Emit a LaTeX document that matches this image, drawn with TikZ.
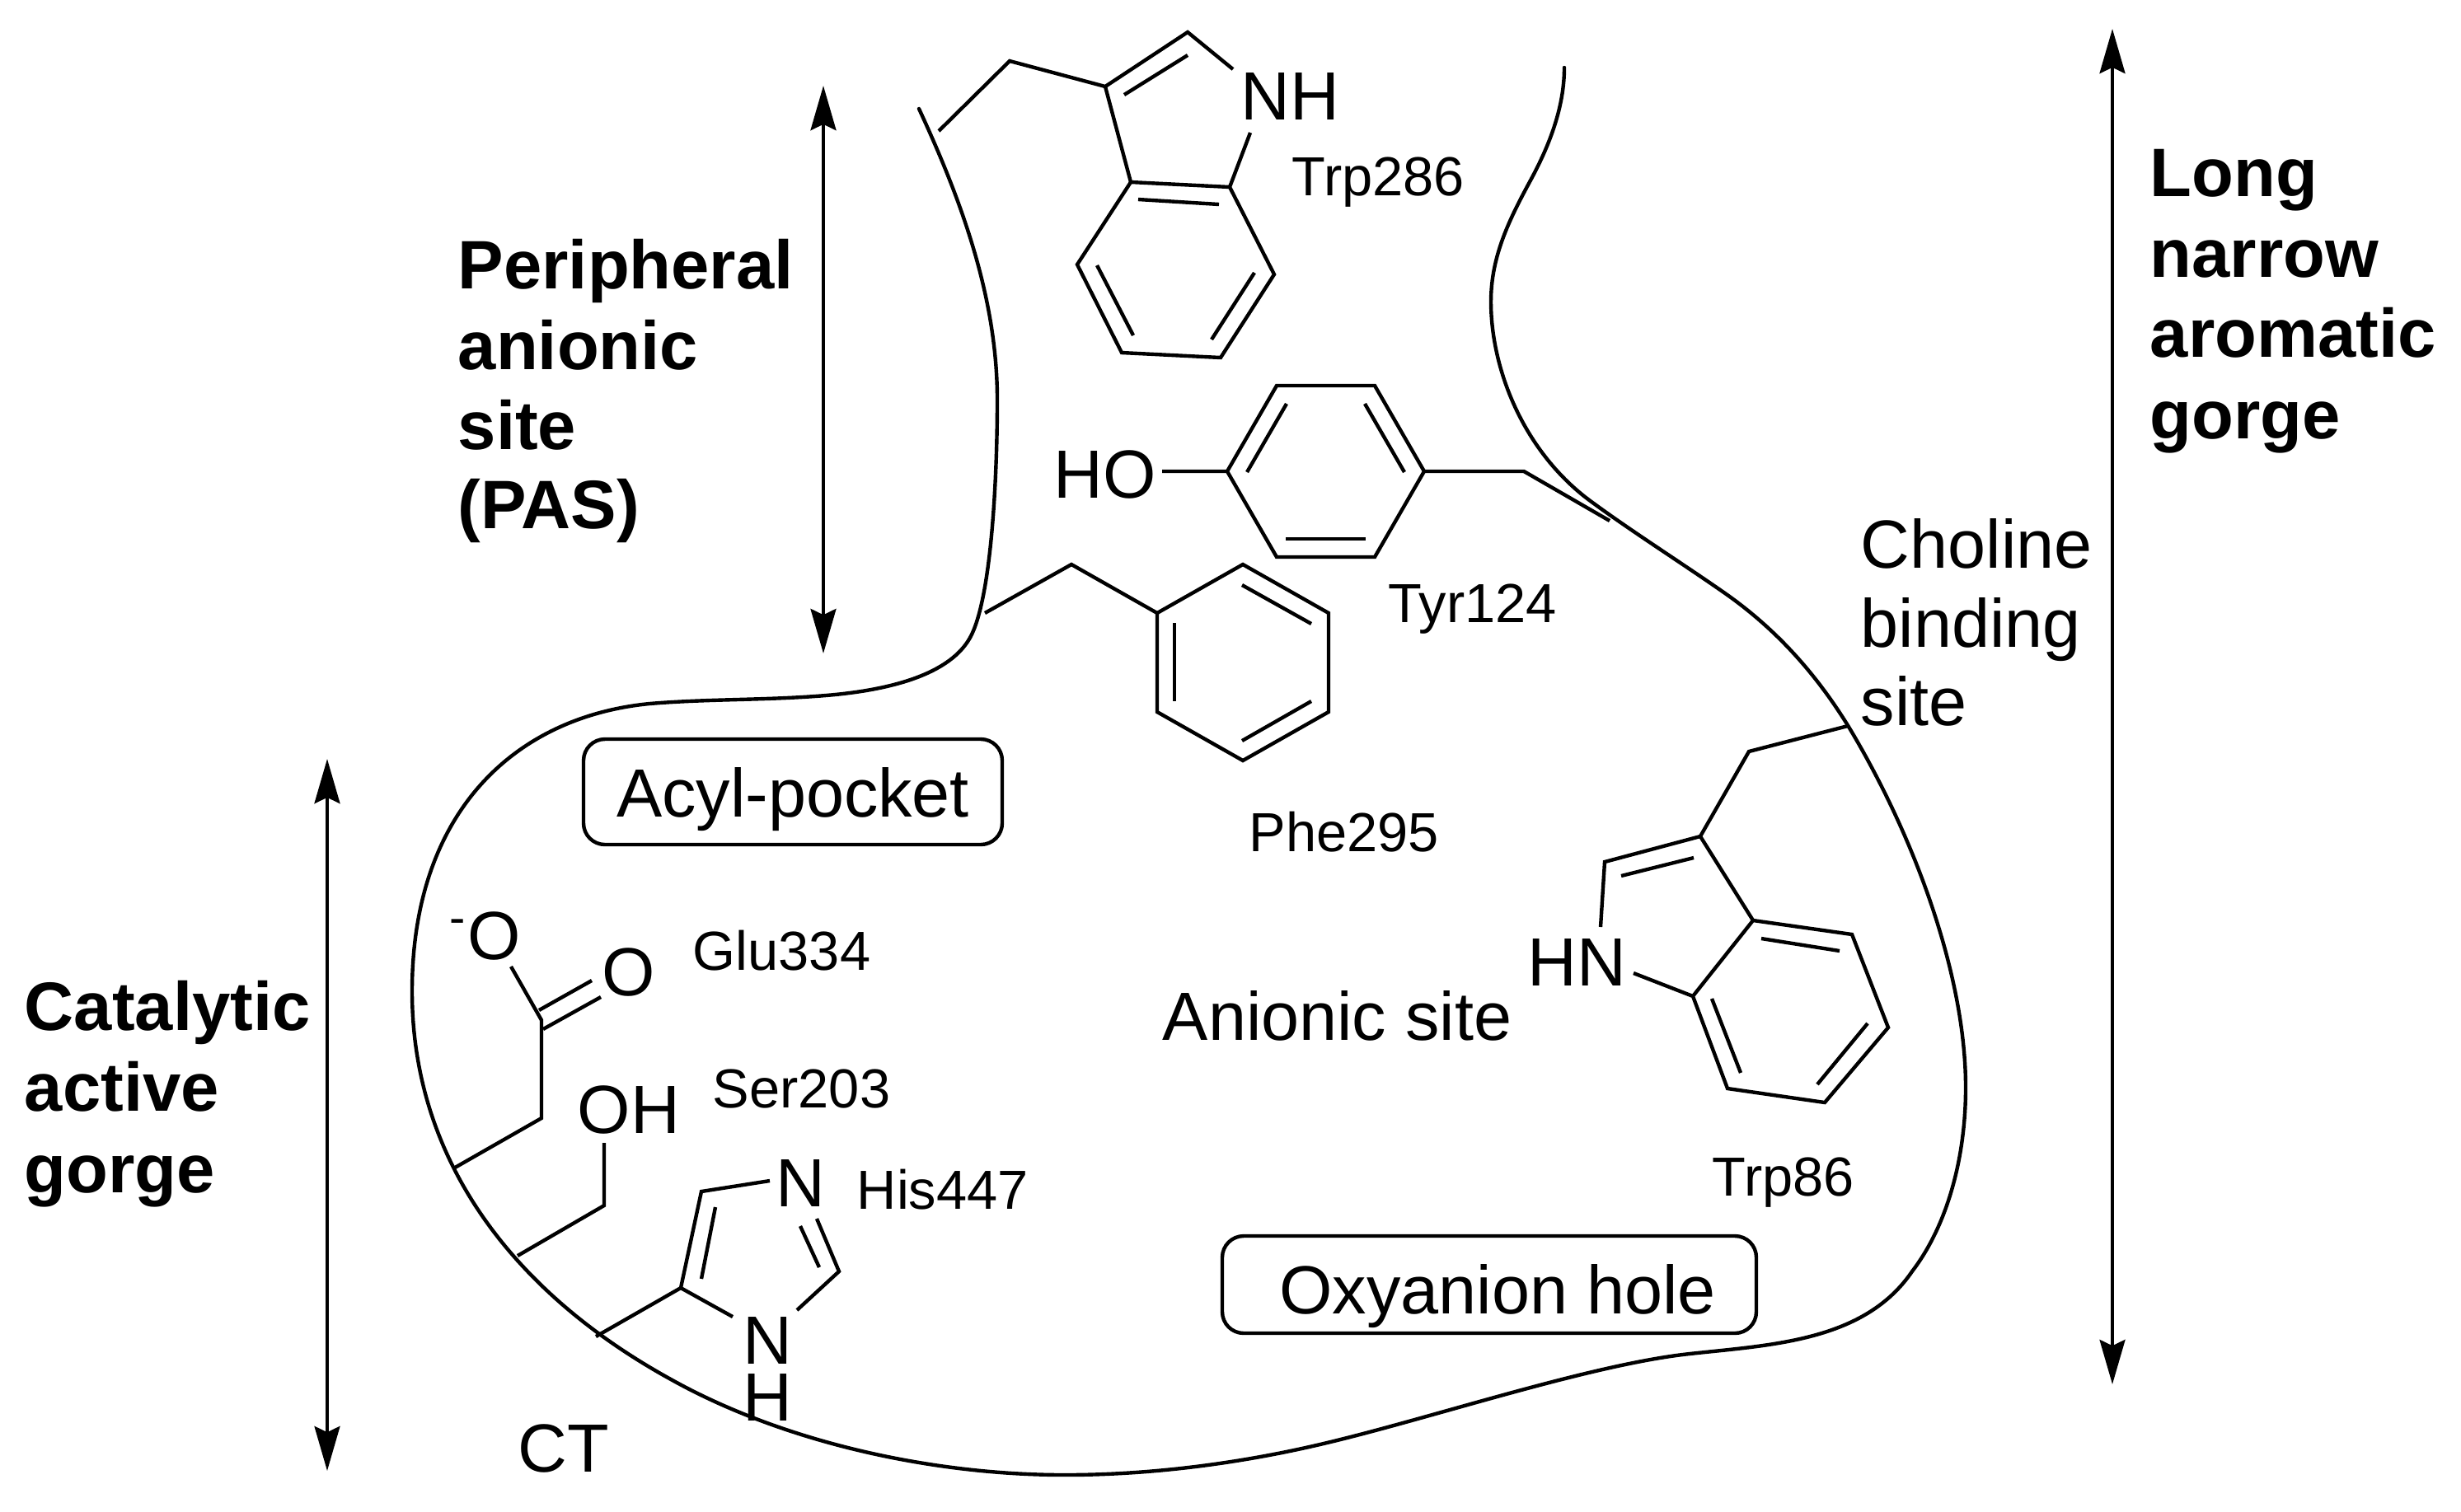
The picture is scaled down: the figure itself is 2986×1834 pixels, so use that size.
\documentclass[tikz,border=0pt]{standalone}
\usepackage{fontspec}
\setmainfont{Liberation Sans}
\usetikzlibrary{arrows.meta}
\tikzset{
  bond/.style={line width=1.1pt, line join=miter},
  wall/.style={line width=1.1pt, line cap=round},
  span/.style={line width=1.15pt, {Stealth[length=13.5pt,width=7.7pt,inset=1.8pt]}-{Stealth[length=13.5pt,width=7.7pt,inset=1.8pt]}},
  atom/.style={anchor=base west, inner sep=0pt, font=\fontsize{20.7}{20.7}\selectfont},
  res/.style={anchor=base west, inner sep=0pt, font=\fontsize{16.7}{16.7}\selectfont},
  site/.style={anchor=base west, inner sep=0pt, font=\fontsize{20.7}{20.7}\selectfont},
  head/.style={anchor=base west, inner sep=0pt, font=\fontsize{20.8}{20.8}\bfseries\selectfont},
  pocket/.style={draw, line width=1.1pt, rounded corners=6.5pt, anchor=center, inner sep=0pt, text depth=0pt, font=\fontsize{20.7}{20.7}\selectfont},
}
\begin{document}
\begin{tikzpicture}[x=0.25pt,y=-0.25pt]
\useasboundingbox (0,0) rectangle (2986,1834);

% gorge outline
\draw[wall] (1115,132)
  .. controls (1165,240) and (1210,360) .. (1210,485)
  .. controls (1210,580) and (1203,720) .. (1179,770)
  .. controls (1155,820) and (1075,838) .. (1002,844)
  .. controls (930,850) and (860,848) .. (788,854)
  .. controls (625,870) and (500,985) .. (500,1203)
  .. controls (500,1410) and (625,1570) .. (814,1674)
  .. controls (950,1750) and (1130,1790) .. (1292,1790)
  .. controls (1400,1790) and (1510,1775) .. (1610,1751)
  .. controls (1740,1720) and (1930,1656) .. (2050,1643)
  .. controls (2150,1632) and (2262,1628) .. (2320,1543)
  .. controls (2365,1484) and (2385,1400) .. (2385,1320)
  .. controls (2385,1180) and (2320,1010) .. (2243,882)
  .. controls (2200,812) and (2150,760) .. (2093,720)
  .. controls (2040,683) and (1980,645) .. (1931,609)
  .. controls (1850,550) and (1809,450) .. (1809,366)
  .. controls (1809,310) and (1832,265) .. (1858,217)
  .. controls (1880,176) and (1898,130) .. (1898,82);

% Trp286
\coordinate (a1) at (1139,159);
\coordinate (a2) at (1225,74);
\coordinate (a3) at (1341,105);
\coordinate (a4) at (1441,39);
\coordinate (a5) at (1496,84);
\coordinate (a6) at (1517,161);
\coordinate (a7) at (1492,227);
\coordinate (a8) at (1372,221);
\coordinate (a9) at (1307,321);
\coordinate (a10) at (1361,428);
\coordinate (a11) at (1481,434);
\coordinate (a12) at (1546,333);
\draw[bond] (a1) -- (a2) -- (a3) -- (a4) -- (a5);
\draw[bond] (a6) -- (a7) -- (a8) -- (a9) -- (a10) -- (a11) -- (a12) -- (a7);
\draw[bond] (a3) -- (a8);
\draw[bond] (1364,115) -- (1441,67);
\draw[bond] (1381,242) -- (1479,248);
\draw[bond] (1331,322) -- (1375,407);
\draw[bond] (1470,412) -- (1522,331);
\node[atom] (nh1) at (1505,145) {NH};
\node[res] (trp286) at (1567,237) {Trp286};

% Tyr124
\coordinate (b1) at (1410,572);
\coordinate (b2) at (1489,572);
\coordinate (b3) at (1549,468);
\coordinate (b4) at (1668,468);
\coordinate (b5) at (1728,572);
\coordinate (b6) at (1668,676);
\coordinate (b7) at (1549,676);
\coordinate (b8) at (1849,572);
\coordinate (b9) at (1953,632);
\draw[bond] (b1) -- (b2) -- (b3) -- (b4) -- (b5) -- (b6) -- (b7) -- (b2);
\draw[bond] (b5) -- (b8) -- (b9);
\draw[bond] (1513,573) -- (1561,490);
\draw[bond] (1656,490) -- (1704,573);
\draw[bond] (1560,654) -- (1657,654);
\node[atom] (ho1) at (1278,604) {HO};
\node[res] (tyr124) at (1684,755) {Tyr124};

% Phe295
\coordinate (c1) at (1195,744);
\coordinate (c2) at (1300,685);
\coordinate (c3) at (1404,744);
\coordinate (c4) at (1508,685);
\coordinate (c5) at (1612,744);
\coordinate (c6) at (1612,864);
\coordinate (c7) at (1508,923);
\coordinate (c8) at (1404,864);
\draw[bond] (c1) -- (c2) -- (c3) -- (c4) -- (c5) -- (c6) -- (c7) -- (c8) -- (c3);
\draw[bond] (1507,710) -- (1591,757);
\draw[bond] (1425,756) -- (1425,851);
\draw[bond] (1507,899) -- (1591,851);
\node[res] (phe295) at (1515,1033) {Phe295};

% Trp86
\coordinate (d1) at (2242,881);
\coordinate (d2) at (2122,912);
\coordinate (d3) at (2063,1015);
\coordinate (d4) at (1947,1046);
\coordinate (d5) at (1942,1125);
\coordinate (d6) at (1982,1181);
\coordinate (d7) at (2054,1209);
\coordinate (d8) at (2127,1117);
\coordinate (d9) at (2247,1134);
\coordinate (d10) at (2291,1247);
\coordinate (d11) at (2214,1338);
\coordinate (d12) at (2096,1321);
\draw[bond] (d1) -- (d2) -- (d3) -- (d4) -- (d5);
\draw[bond] (d6) -- (d7) -- (d8) -- (d9) -- (d10) -- (d11) -- (d12) -- (d7);
\draw[bond] (d3) -- (d8);
\draw[bond] (1967,1063) -- (2055,1041);
\draw[bond] (2137,1139) -- (2232,1154);
\draw[bond] (2266,1242) -- (2205,1316);
\draw[bond] (2077,1212) -- (2112,1302);
\node[atom] (hn1) at (1853,1196) {HN};
\node[res] (trp86) at (2077,1451) {Trp86};

% Glu334
\coordinate (e1) at (552,1417);
\coordinate (e2) at (657,1357);
\coordinate (e3) at (657,1238);
\coordinate (e4) at (620,1173);
\draw[bond] (e1) -- (e2) -- (e3) -- (e4);
\draw[bond] (654,1226) -- (718,1190);
\draw[bond] (659,1249) -- (729,1210);
\node[atom] (om) at (545,1164) {\textsuperscript{-}O};
\node[atom] (o2) at (730,1208) {O};
\node[res] (glu334) at (840,1177) {Glu334};

% Ser203
\coordinate (f1) at (628,1524);
\coordinate (f2) at (733,1463);
\coordinate (f3) at (733,1387);
\draw[bond] (f1) -- (f2) -- (f3);
\node[atom] (oh1) at (700,1375) {OH};
\node[res] (ser203) at (864,1344) {Ser203};

% His447
\coordinate (g1) at (723,1622);
\coordinate (g2) at (826,1563);
\coordinate (g3) at (851,1446);
\coordinate (g4) at (934,1433);
\coordinate (g5) at (991,1479);
\coordinate (g6) at (1018,1543);
\coordinate (g7) at (967,1590);
\coordinate (g8) at (889,1598);
\draw[bond] (g1) -- (g2) -- (g3) -- (g4);
\draw[bond] (g5) -- (g6) -- (g7);
\draw[bond] (g2) -- (g8);
\draw[bond] (868,1465) -- (851,1552);
\draw[bond] (971,1488) -- (994,1538);
\node[atom] (n3) at (941,1464) {N};
\node[atom] (n1) at (901,1724) {\shortstack{N\\[-0.05pt]H}};
\node[res] (his447) at (1039,1467) {His447};

% labels
\node[atom] (ct) at (628,1786) {CT};
\node[pocket, minimum width=127pt, minimum height=32pt, text height=15pt] (acyl) at (962,961) {Acyl-pocket};
\node[pocket, minimum width=162pt, minimum height=29.5pt, text height=17.5pt] (oxy) at (1807,1559) {\hspace*{5pt}Oxyanion hole};
\node[site] (anionic) at (1410,1262) {Anionic site};
\node[site] (chol1) at (2257,689) {Choline};
\node[site] (chol2) at (2257,785) {binding};
\node[site] (chol3) at (2257,880) {site};

\node[head] (pas1) at (555,350) {Peripheral};
\node[head] (pas2) at (555,448) {anionic};
\node[head] (pas3) at (555,545) {site};
\node[head] (pas4) at (555,641) {(PAS)};
\node[head] (cat1) at (29,1250) {Catalytic};
\node[head] (cat2) at (29,1348) {active};
\node[head] (cat3) at (29,1447) {gorge};
\node[head] (long1) at (2608,238) {Long};
\node[head] (long2) at (2608,336) {narrow};
\node[head] (long3) at (2608,433) {aromatic};
\node[head] (long4) at (2608,532) {gorge};

% extents
\coordinate (p1) at (999,104);
\coordinate (p2) at (999,793);
\coordinate (q1) at (397,921);
\coordinate (q2) at (397,1785);
\coordinate (r1) at (2563,35);
\coordinate (r2) at (2563,1680);
\draw[span] (p1) -- (p2);
\draw[span] (q1) -- (q2);
\draw[span] (r1) -- (r2);
\end{tikzpicture}
\end{document}
